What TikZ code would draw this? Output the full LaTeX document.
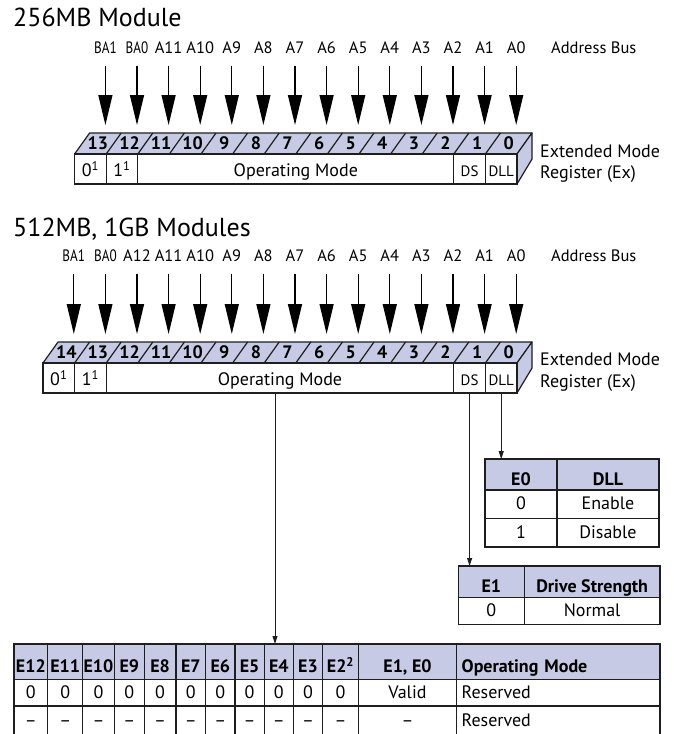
\documentclass[tikz,border=0pt]{standalone}
\usepackage{fontspec}
\setmainfont{PT Sans}
\usepackage{graphicx}
\usepackage{tikz}
\usetikzlibrary{arrows.meta, positioning, calc}
\definecolor{EM_LAV}{HTML}{C6CAE4}
\definecolor{EM_INK}{HTML}{1E1E1E}
\newcommand{\pxfont}[1]{\fontsize{#1}{#1}\selectfont}
\newcommand{\nrw}[1]{\scalebox{0.8}[1]{#1}}
\tikzset{
  heading/.style={anchor=base west, inner sep=0pt, font=\pxfont{26}},
  buslbl/.style={anchor=base, inner sep=0pt, text depth=0pt, font=\pxfont{16.5}},
  busarr/.style={-{Triangle[length=30pt,width=14pt]}, line width=1.3pt,
    shorten <=12.5pt, shorten >=8pt},
  regface/.style={draw=EM_INK, fill=EM_LAV, line width=1.2pt, line join=round},
  regline/.style={draw=EM_INK, line width=1.2pt},
  bitnum/.style={inner sep=0pt, font=\bfseries\pxfont{18}},
  regcell/.style={draw=EM_INK, fill=white, line width=1.2pt, anchor=north west,
    inner sep=0pt, outer sep=0pt, minimum height=30pt,
    text height=15pt, text depth=0pt, font=\pxfont{18}},
  regnote/.style={anchor=base west, inner sep=0pt, font=\pxfont{18}},
  linkarr/.style={-{Triangle[length=8pt,width=5pt]}, line width=1pt, draw=EM_INK},
  tabhead/.style={draw=EM_INK, fill=EM_LAV, line width=1.2pt, anchor=north west,
    inner sep=0pt, outer sep=0pt, text height=22pt, text depth=0pt,
    font=\bfseries\pxfont{18}},
  tabcell/.style={draw=EM_INK, fill=white, line width=1.2pt, anchor=north west,
    inner sep=0pt, outer sep=0pt, text height=11pt, text depth=0pt,
    font=\pxfont{18}},
}

\begin{document}
\begin{tikzpicture}[x=1pt, y=-1pt]
  \useasboundingbox (0,0) rectangle (676,734);

  % ---- 256MB module
  \node[heading] (ttlA) at (13,26.5) {256MB Module};

  \draw[regface] (74.6,154) -- (89.6,133) -- (532,133) -- (517,154) -- cycle;
  \draw[regface] (517,154) -- (532,133) -- (532,159) -- (517,184) -- cycle;
  \foreach \i in {1,...,13}
    \draw[regline] ({74.6+\i*31.6},154) -- ++(15,-21);
  \foreach \i [evaluate=\i as \bitno using int(13-\i)] in {0,...,13}
    \node[bitnum] at ({82.1+(\i+0.5)*31.6},143.5) {\bitno};

  \node[regcell, minimum width=31.6pt] (zeroA) at (74.6,154) {0\textsuperscript{1}};
  \node[regcell, minimum width=31.6pt, right=0pt of zeroA] (oneA) {1\textsuperscript{1}};
  \node[regcell, minimum width=316pt, right=0pt of oneA] (omA) {Operating Mode};
  \node[regcell, minimum width=31.6pt, right=0pt of omA, font=\pxfont{15}] (dsA) {DS};
  \node[regcell, minimum width=31.6pt, right=0pt of dsA, font=\pxfont{15}] (dllA) {DLL};

  \node[regnote] (extA) at (540,157) {Extended Mode};
  \node[regnote] (regA) at (540,178) {Register (Ex)};

  \coordinate (topA) at (0,133);
  \foreach \lbl [count=\i from 0] in {\nrw{BA1},\nrw{BA0},A11,A10,A9,A8,A7,A6,A5,A4,A3,A2,A1,A0} {
    \node[buslbl] (busA\i) at ({89.6+(\i+0.5)*31.6},53) {\lbl};
    \draw[busarr] (busA\i.south) -- (busA\i.south |- topA);
  }
  \node[buslbl, anchor=base west] (addrA) at (551,53) {Address Bus};

  % ---- 512MB, 1GB modules
  \node[heading] (ttlB) at (13,236.5) {512MB, 1GB Modules};

  \draw[regface] (43,363) -- (58,342) -- (532,342) -- (517,363) -- cycle;
  \draw[regface] (517,363) -- (532,342) -- (532,368) -- (517,393) -- cycle;
  \foreach \i in {1,...,14}
    \draw[regline] ({43+\i*31.6},363) -- ++(15,-21);
  \foreach \i [evaluate=\i as \bitno using int(14-\i)] in {0,...,14}
    \node[bitnum] at ({50.5+(\i+0.5)*31.6},352.5) {\bitno};

  \node[regcell, minimum width=31.6pt] (zeroB) at (43,363) {0\textsuperscript{1}};
  \node[regcell, minimum width=31.6pt, right=0pt of zeroB] (oneB) {1\textsuperscript{1}};
  \node[regcell, minimum width=347.6pt, right=0pt of oneB] (omB) {Operating Mode};
  \node[regcell, minimum width=31.6pt, right=0pt of omB, font=\pxfont{15}] (dsB) {DS};
  \node[regcell, minimum width=31.6pt, right=0pt of dsB, font=\pxfont{15}] (dllB) {DLL};

  \node[regnote] (extB) at (540,365) {Extended Mode};
  \node[regnote] (regB) at (540,387) {Register (Ex)};

  \coordinate (topB) at (0,342);
  \foreach \lbl [count=\i from 0] in {\nrw{BA1},\nrw{BA0},A12,A11,A10,A9,A8,A7,A6,A5,A4,A3,A2,A1,A0} {
    \node[buslbl] (busB\i) at ({58+(\i+0.5)*31.6},261) {\lbl};
    \draw[busarr] (busB\i.south) -- (busB\i.south |- topB);
  }
  \node[buslbl, anchor=base west] (addrB) at (551,261) {Address Bus};

  % ---- E0 / DLL table
  \node[tabhead, minimum width=72pt, minimum height=31pt] (dllH1) at (485,459) {E0};
  \node[tabhead, minimum width=102pt, minimum height=31pt] (dllH2) at (557,459) {DLL};
  \node[tabcell, minimum width=72pt, minimum height=28.5pt] (dllR1) at (485,490) {0};
  \node[tabcell, minimum width=102pt, minimum height=28.5pt] (dllR2) at (557,490) {Enable};
  \node[tabcell, minimum width=72pt, minimum height=28.5pt] (dllR3) at (485,518.5) {1};
  \node[tabcell, minimum width=102pt, minimum height=28.5pt] (dllR4) at (557,518.5) {Disable};

  % ---- E1 / drive strength table
  \node[tabhead, minimum width=66pt, minimum height=31.3pt] (dsH1) at (458.3,566) {E1};
  \node[tabhead, minimum width=135.7pt, minimum height=31.3pt] (dsH2) at (524.3,566) {Drive Strength};
  \node[tabcell, minimum width=66pt, minimum height=27pt] (dsR1) at (458.3,597.3) {0};
  \node[tabcell, minimum width=135.7pt, minimum height=27pt] (dsR2) at (524.3,597.3) {Normal};

  % ---- operating mode table
  \foreach \xa/\xb/\hd/\ra/\rb [count=\c] in {
      14/47.7/E12/0/--, 47.7/82.7/E11/0/--, 82.7/114.3/E10/0/--,
      114.3/144.3/E9/0/--, 144.3/176/E8/0/--, 176/205.7/E7/0/--,
      205.7/235/E6/0/--, 235/264.3/E5/0/--, 264.3/293.3/E4/0/--,
      293.3/322.7/E3/0/--, 322.7/358.3/{E2\textsuperscript{2}}/0/--,
      358.3/456.7/{E1, E0}/Valid/--} {
    \node[tabhead, minimum width={(\xb-\xa)*1pt}, minimum height=35.3pt] (mh\c) at (\xa,644) {\hd};
    \node[tabcell, minimum width={(\xb-\xa)*1pt}, minimum height=26.7pt] (ma\c) at (\xa,679.3) {\ra};
    \node[tabcell, minimum width={(\xb-\xa)*1pt}, minimum height=30pt] (mb\c) at (\xa,706) {\rb};
  }
  \node[tabhead, minimum height=35.3pt, text width=193.3pt, align=left, inner xsep=5pt] (mh13) at (456.7,644) {Operating Mode};
  \node[tabcell, minimum height=26.7pt, text width=193.3pt, align=left, inner xsep=5pt] (ma13) at (456.7,679.3) {Reserved};
  \node[tabcell, minimum height=30pt, text width=193.3pt, align=left, inner xsep=5pt] (mb13) at (456.7,706) {Reserved};

  % ---- links from register fields
  \coordinate (omtap) at (275,393);
  \draw[linkarr] (omtap) -- (omtap |- mh9.north);
  \draw[linkarr] (dsB.south) -- (dsB.south |- dsH1.north);
  \draw[linkarr] (dllB.south) -- (dllB.south |- dllH1.north);

\end{tikzpicture}
\end{document}
